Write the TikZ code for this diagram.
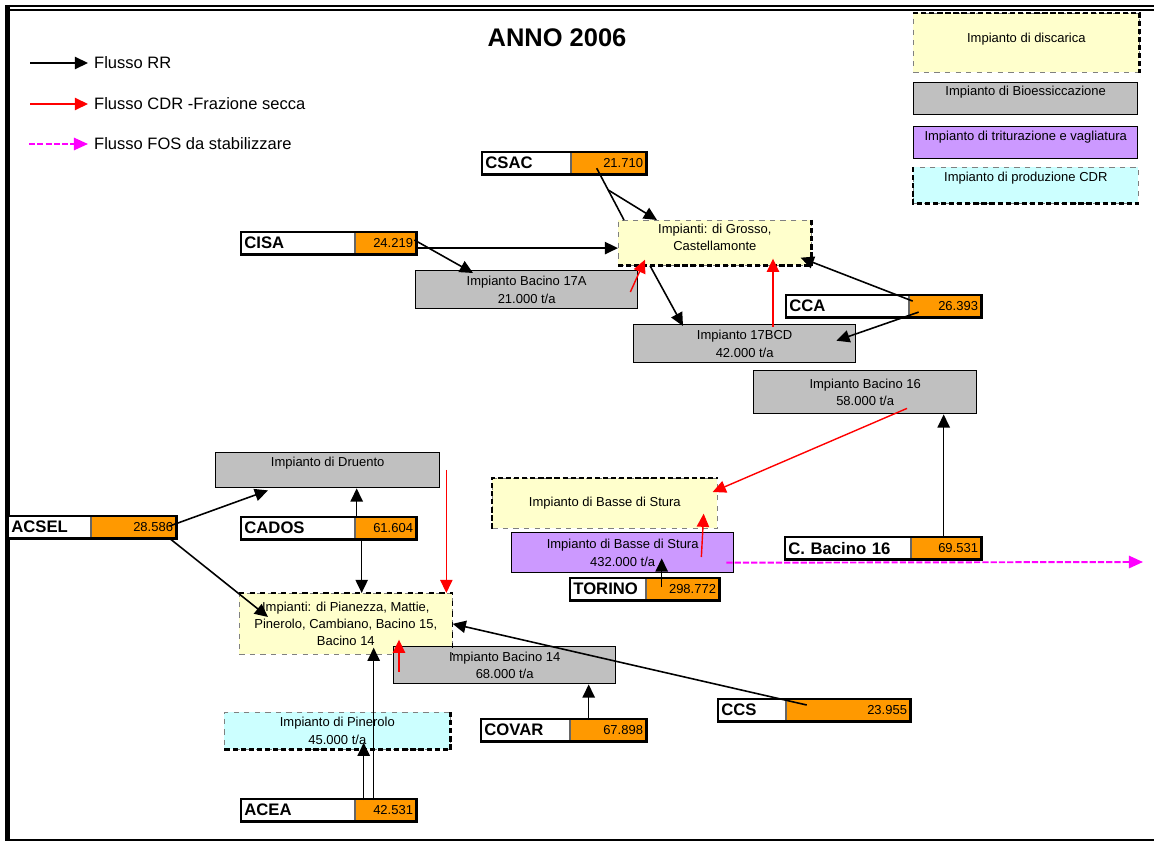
\documentclass[tikz,border=0pt]{standalone}
\usepackage{fontspec}
\setmainfont{Liberation Sans}
\usetikzlibrary{arrows.meta,positioning,calc}
\definecolor{landyellow}{HTML}{FFFFCC}
\definecolor{biogray}{HTML}{C0C0C0}
\definecolor{shredpurple}{HTML}{CC99FF}
\definecolor{cdrcyan}{HTML}{CCFFFF}
\definecolor{valorange}{HTML}{FF9900}
\definecolor{fosmagenta}{HTML}{FF00FF}

\begin{document}
\begin{tikzpicture}[x=0.02cm, y=-0.02cm,
  plant/.style={anchor=north west, align=center, inner sep=1pt,
                font=\fontsize{7.4}{9.9}\selectfont},
  bio/.style={plant, draw=black, line width=0.8pt, fill=biogray},
  shred/.style={plant, draw=black, line width=0.8pt, fill=shredpurple},
  landfill/.style={plant, draw=black!50, dashed, line width=0.4pt, fill=landyellow},
  cdrplant/.style={plant, draw=black!50, dashed, line width=0.4pt, fill=cdrcyan},
  thickedge/.style={line width=1.4pt, dash pattern=on 3pt off 1.6pt},
  namebox/.style={anchor=north west, draw=black!60, line width=0.4pt, fill=white,
                  align=left, inner xsep=0.06cm, inner ysep=0pt, minimum height=0.43cm,
                  font=\bfseries\fontsize{9.5}{11}\selectfont},
  valbox/.style={draw=black!60, line width=0.4pt, fill=valorange, align=right,
                 inner xsep=0.06cm, inner ysep=0pt, minimum height=0.43cm,
                 font=\fontsize{7.4}{9}\selectfont},
  rim/.style={line width=1.5pt},
  rr/.style={-{Triangle[length=7.5pt,width=7pt]}, line width=0.9pt},
  cdr/.style={-{Triangle[length=7.5pt,width=7pt]}, line width=0.8pt, red},
  fos/.style={-{Triangle[length=8pt,width=7pt]}, line width=1.1pt, fosmagenta,
              dash pattern=on 3.5pt off 1.2pt},
  legtxt/.style={anchor=west, font=\fontsize{9.4}{11}\selectfont}
]
  \useasboundingbox (0,0) rectangle (1154,841);
  % Frame
  \draw[line width=1.1pt] (5,6) -- (1154,6);
  \draw[line width=1.1pt] (5,10) -- (1154,10);
  \draw[line width=2.8pt] (7.5,5) -- (7.5,841);
  \draw[line width=0.6pt] (5,840) -- (1154,840);

  % Title
  \node[font=\bfseries\fontsize{14.5}{17}\selectfont] (anno) at (557,38) {ANNO 2006};

  % Legend of flows
  \node[legtxt] (lrr) at (88,63) {Flusso RR};
  \node[legtxt] (lcdrf) at (88,104) {Flusso CDR -Frazione secca};
  \node[legtxt] (lfos) at (88,144) {Flusso FOS da stabilizzare};
  \draw[rr] ($(lrr.west)+(-58,0)$) -- (lrr.west);
  \draw[cdr] ($(lcdrf.west)+(-58,0)$) -- (lcdrf.west);
  \draw[fos] ($(lfos.west)+(-59,0)$) -- (lfos.west);

  % Legend of plants
  \node[landfill, minimum width=4.52cm, minimum height=1.18cm, text depth=6.3pt] (ldisc) at (913,13) {Impianto di discarica};
  \node[bio, minimum width=4.48cm, minimum height=0.64cm, text depth=9.1pt] (lbio) at (913,82) {Impianto di Bioessiccazione};
  \node[shred, minimum width=4.48cm, minimum height=0.64cm, text depth=8pt] (ltrit) at (913,126) {Impianto di triturazione e vagliatura};
  \node[cdrplant, minimum width=4.5cm, minimum height=0.72cm, text depth=9.7pt] (lcdr) at (913,167) {Impianto di produzione CDR};
  \draw[thickedge] (ldisc.north west) -- (ldisc.north east) -- (ldisc.south east);
  \draw[thickedge] (lcdr.north west) -- (lcdr.south west) -- (lcdr.south east);

  % Plants
  \node[landfill, minimum width=3.86cm, minimum height=0.9cm] (gros) at (618,220) {};
  \node[plant, anchor=north] (grostxt) at ($(gros.north)+(0,2)$) {Impianti: di Grosso,\\Castellamonte};
  \node[bio, minimum width=4.44cm, minimum height=0.76cm] (b17a) at (415,270) {Impianto Bacino 17A\\21.000 t/a};
  \node[bio, minimum width=4.44cm, minimum height=0.76cm] (b17bcd) at (633,324) {Impianto 17BCD\\42.000 t/a};
  \node[bio, minimum width=4.46cm, minimum height=0.86cm] (b16) at (753,370) {Impianto Bacino 16\\58.000 t/a};
  \node[bio, minimum width=4.48cm, minimum height=0.7cm, text depth=9.7pt] (druento) at (215,452) {Impianto di Druento};
  \node[landfill, minimum width=4.5cm, minimum height=1cm] (basse) at (492,478) {Impianto di Basse di Stura};
  \node[shred, minimum width=4.44cm, minimum height=0.8cm] (trit) at (511,532) {Impianto di Basse di Stura\\432.000 t/a};
  \node[landfill, minimum width=4.26cm, minimum height=1.22cm] (pianezza) at (239,593) {Impianti: di Pianezza, Mattie,\\Pinerolo, Cambiano, Bacino 15,\\Bacino 14};
  \node[bio, minimum width=4.44cm, minimum height=0.74cm] (b14) at (393,646) {Impianto Bacino 14\\68.000 t/a};
  \node[cdrplant, minimum width=4.52cm, minimum height=0.74cm] (pinerolo) at (224,712) {Impianto di Pinerolo\\45.000 t/a};
  \draw[thickedge] (gros.north east) -- (gros.south east) -- (gros.south west);
  \draw[thickedge] (basse.south west) -- (basse.north west) -- (basse.north east);
  \draw[dashed, line width=0.8pt] (pianezza.north west) -- (pianezza.north east) -- (pianezza.south east);
  \draw[thickedge] (pinerolo.north east) -- (pinerolo.south east) -- (pinerolo.south west);

  % Consortia
  \node[namebox, text width=1.64cm] (csac) at (482,152) {CSAC};
  \node[valbox, text width=1.38cm, right=0pt of csac] (csacv) {21.710};
  \draw[rim] (csac.north west) rectangle (csacv.south east);
  \node[namebox, text width=2.14cm] (cisa) at (241,232) {CISA};
  \node[valbox, text width=1.1cm, right=0pt of cisa] (cisav) {24.219};
  \draw[rim] (cisa.north west) rectangle (cisav.south east);
  \node[namebox, text width=2.32cm] (cca) at (786,295) {CCA};
  \node[valbox, text width=1.32cm, right=0pt of cca] (ccav) {26.393};
  \draw[rim] (cca.north west) rectangle (ccav.south east);
  \node[namebox, text width=2.38cm] (cb16) at (785,537) {C. Bacino 16};
  \node[valbox, text width=1.28cm, right=0pt of cb16] (cb16v) {69.531};
  \draw[rim] (cb16.north west) rectangle (cb16v.south east);
  \node[namebox, text width=1.38cm] (torino) at (570,578) {TORINO};
  \node[valbox, text width=1.34cm, right=0pt of torino] (torinov) {298.772};
  \draw[rim] (torino.north west) rectangle (torinov.south east);
  \node[namebox, text width=1.52cm] (acsel) at (8,516) {ACSEL};
  \node[valbox, text width=1.58cm, right=0pt of acsel] (acselv) {28.586};
  \draw[rim] (acsel.north west) rectangle (acselv.south east);
  \node[namebox, text width=2.14cm] (cados) at (241,517) {CADOS};
  \node[valbox, text width=1.1cm, right=0pt of cados] (cadosv) {61.604};
  \draw[rim] (cados.north west) rectangle (cadosv.south east);
  \node[namebox, text width=1.64cm] (covar) at (481,719) {COVAR};
  \node[valbox, text width=1.4cm, right=0pt of covar] (covarv) {67.898};
  \draw[rim] (covar.north west) rectangle (covarv.south east);
  \node[namebox, text width=1.22cm] (ccs) at (718,699) {CCS};
  \node[valbox, text width=2.36cm, right=0pt of ccs] (ccsv) {23.955};
  \draw[rim] (ccs.north west) rectangle (ccsv.south east);
  \node[namebox, text width=2.14cm] (acea) at (241,799) {ACEA};
  \node[valbox, text width=1.1cm, right=0pt of acea] (aceav) {42.531};
  \draw[rim] (acea.north west) rectangle (aceav.south east);

  % RR flows
  \draw[line width=0.9pt] ($(csacv.south west)+(26,-6)$) -- coordinate[pos=0.42] (csacmid) ($(gros.north west)+(6,0)$);
  \draw[rr] (csacmid) -- ($(gros.north west)+(39,0)$);
  \draw[rr] ($(cisav.east)+(0,5)$) coordinate (cisaout) -- (cisaout -| gros.west);
  \draw[rr] ($(cisav.north east)+(-2,8)$) -- ($(b17a.north west)+(58,3)$);
  \draw[rr] ($(gros.south west)+(32,0)$) -- ($(b17bcd.north west)+(50,2)$);
  \draw[rr] ($(ccav.west)+(4,-5)$) -- ($(gros.south east)+(-11,-8)$);
  \draw[rr] ($(ccav.west)+(10,6)$) -- ($(b17bcd.east)+(-20,-3)$);
  \draw[rr] ($(cb16v.north west)+(33,0)$) coordinate (cb16out) -- (cb16out |- b16.south);
  \draw[rr] ($(torinov.north west)+(16,9)$) coordinate (torout) -- ($(torout |- trit.south)+(0,-15)$);
  \draw[rr] ($(acselv.east)+(-7,-1)$) -- ($(druento.south west)+(53,2)$);
  \draw[rr] ($(acselv.south east)+(-7,0)$) -- ($(pianezza.north west)+(29,24)$);
  \draw[rr] ($(cados.north east)+(2,0)$) coordinate (cadosup) -- (cadosup |- druento.south);
  \draw[rr] ($(cadosv.south west)+(7,0)$) coordinate (cadosdn) -- (cadosdn |- pianezza.north);
  \draw[rr] ($(ccsv.north west)+(21,6)$) -- (pianezza.east);
  \draw[rr] ($(covarv.north west)+(19,1)$) coordinate (covarout) -- (covarout |- b14.south);
  \draw[rr] ($(aceav.north west)+(9,1)$) coordinate (aceaa) -- ($(aceaa |- pinerolo.south)+(0,-7)$);
  \draw[rr] ($(aceav.north west)+(19,1)$) coordinate (aceab) -- ($(aceab |- pianezza.south)+(0,-7)$);

  % CDR flows
  \draw[cdr] ($(b17a.north east)+(-8,22)$) -- ($(gros.south west)+(27,-6)$);
  \draw[cdr] ($(b17bcd.north west)+(140,3)$) coordinate (bcdout) -- ($(bcdout |- gros.south)+(0,-7)$);
  \draw[cdr] ($(b16.south west)+(154,-6)$) -- ($(basse.north east)+(-5,14)$);
  \draw[cdr] ($(trit.north east)+(-33,25)$) -- ($(basse.south east)+(-14,-15)$);
  \draw[cdr] ($(druento.north east)+(6,18)$) coordinate (druout) -- (druout |- pianezza.north);
  \draw[cdr] ($(b14.west)+(6,7)$) coordinate (b14out) -- ($(b14out |- pianezza.south)+(0,-15)$);

  % FOS flow
  \coordinate (fosend) at (1143,562);
  \draw[fos] ($(trit.east)+(-8,10)$) -- (fosend);
\end{tikzpicture}
\end{document}
